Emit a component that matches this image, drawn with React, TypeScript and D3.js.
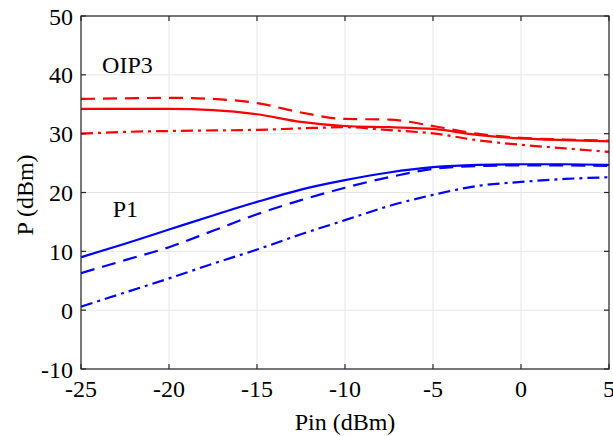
import React from "react";
import * as d3 from "d3";

const xValues = [-25, -22.5, -20, -17.5, -15, -12.5, -10, -7.5, -5, -2.5, 0, 2.5, 5];
const oip3Solid = [34.2, 34.2, 34.2, 34.0, 33.3, 32.0, 31.3, 31.1, 30.8, 29.8, 29.2, 28.9, 28.7];
const oip3Dashed = [35.9, 36.0, 36.1, 35.9, 35.2, 33.6, 32.5, 32.4, 31.3, 30.0, 29.3, 29.0, 28.8];
const oip3DashDot = [30.0, 30.3, 30.45, 30.55, 30.65, 30.9, 31.1, 30.6, 30.05, 28.9, 28.1, 27.5, 26.9];
const p1Solid = [9.0, 11.3, 13.7, 16.1, 18.4, 20.5, 22.1, 23.4, 24.3, 24.7, 24.8, 24.8, 24.7];
const p1Dashed = [6.3, 8.5, 10.7, 13.5, 16.3, 18.7, 20.8, 22.6, 24.0, 24.5, 24.6, 24.6, 24.5];
const p1DashDot = [0.6, 3.0, 5.4, 7.9, 10.3, 12.9, 15.3, 17.7, 19.6, 21.1, 21.8, 22.3, 22.6];

const xTicks = [-25, -20, -15, -10, -5, 0, 5];
const yTicks = [-10, 0, 10, 20, 30, 40, 50];
const xLabel = "Pin (dBm)";
const yLabel = "P (dBm)";
const annotations = [
  { text: "OIP3", x: -23.8, y: 40.3 },
  { text: "P1", x: -23.2, y: 15.8 },
];

const series = [
  { values: oip3Solid, color: "#ff0000", dash: "" },
  { values: oip3Dashed, color: "#ff0000", dash: "14,8" },
  { values: oip3DashDot, color: "#ff0000", dash: "12,5,3,5" },
  { values: p1Solid, color: "#0000ff", dash: "" },
  { values: p1Dashed, color: "#0000ff", dash: "14,8" },
  { values: p1DashDot, color: "#0000ff", dash: "12,5,3,5" },
];

export default function App() {
  const W = 613, H = 436;
  const L = 81, R = 609, T = 16, B = 369;
  const x = d3.scaleLinear().domain([-25, 5]).range([L, R]);
  const y = d3.scaleLinear().domain([-10, 50]).range([B, T]);
  const line = d3
    .line<number>()
    .x((_, i) => x(xValues[i]))
    .y((d) => y(d))
    .curve(d3.curveMonotoneX);
  const textStyle = {
    fontFamily: "'Liberation Serif', 'Times New Roman', Times, serif",
    fontSize: "24px",
  };
  const axisColor = "#262626";
  const tl = 5;
  return (
    <svg width={W} height={H} style={{ position: "absolute", left: 0, top: 0, background: "#fff" }}>
      <rect x={0} y={0} width={W} height={H} fill="#fff" />
      {xTicks.map((t) => (
        <line key={"gx" + t} x1={x(t)} x2={x(t)} y1={T} y2={B} stroke="#e6e6e6" strokeWidth={1} />
      ))}
      {yTicks.map((t) => (
        <line key={"gy" + t} x1={L} x2={R} y1={y(t)} y2={y(t)} stroke="#e6e6e6" strokeWidth={1} />
      ))}
      <defs>
        <clipPath id="clip">
          <rect x={L} y={T} width={R - L} height={B - T} />
        </clipPath>
      </defs>
      <g clipPath="url(#clip)">
        {series.map((s, i) => (
          <path
            key={i}
            d={line(s.values) || ""}
            fill="none"
            stroke={s.color}
            strokeWidth={2.2}
            strokeDasharray={s.dash || undefined}
          />
        ))}
      </g>
      <rect x={L} y={T} width={R - L} height={B - T} fill="none" stroke={axisColor} strokeWidth={1.2} />
      {xTicks.map((t) => (
        <g key={"tx" + t}>
          <line x1={x(t)} x2={x(t)} y1={B} y2={B - tl} stroke={axisColor} strokeWidth={1.2} />
          <line x1={x(t)} x2={x(t)} y1={T} y2={T + tl} stroke={axisColor} strokeWidth={1.2} />
          <text x={x(t)} y={B + 28} textAnchor="middle" style={textStyle} fill="#000">
            {t}
          </text>
        </g>
      ))}
      {yTicks.map((t) => (
        <g key={"ty" + t}>
          <line x1={L} x2={L + tl} y1={y(t)} y2={y(t)} stroke={axisColor} strokeWidth={1.2} />
          <line x1={R} x2={R - tl} y1={y(t)} y2={y(t)} stroke={axisColor} strokeWidth={1.2} />
          <text x={L - 8} y={y(t) + 8.5} textAnchor="end" style={textStyle} fill="#000">
            {t}
          </text>
        </g>
      ))}
      <text x={(L + R) / 2} y={430} textAnchor="middle" style={textStyle} fill="#000">
        {xLabel}
      </text>
      <text
        transform={`translate(33, 195) rotate(-90)`}
        textAnchor="middle"
        style={textStyle}
        fill="#000"
      >
        {yLabel}
      </text>
      {annotations.map((a) => (
        <text key={a.text} x={x(a.x)} y={y(a.y)} style={textStyle} fill="#000">
          {a.text}
        </text>
      ))}
    </svg>
  );
}
